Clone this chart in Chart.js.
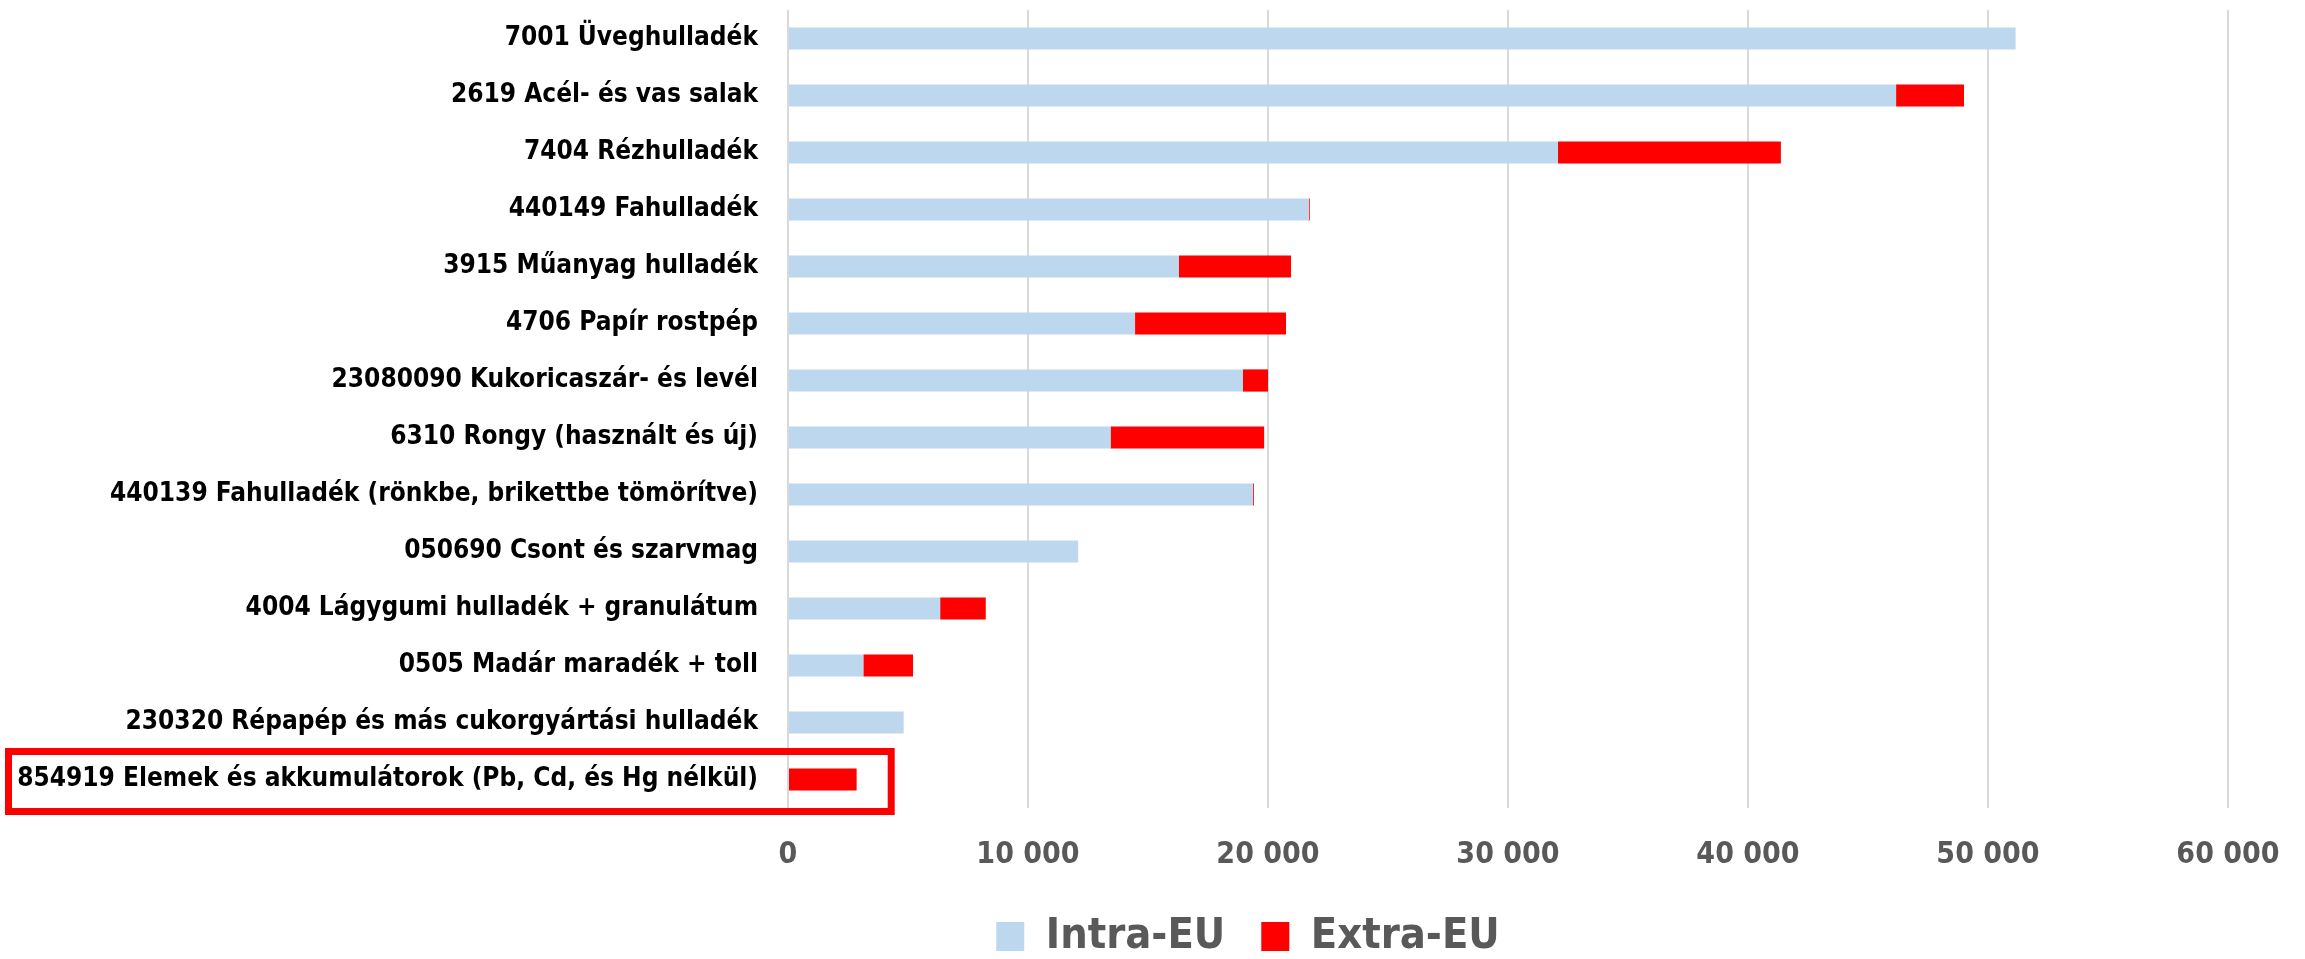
<!DOCTYPE html>
<html>
<head>
<meta charset="utf-8">
<script src="https://cdn.jsdelivr.net/npm/chart.js@4.4.1/dist/chart.umd.min.js"></script>
<style>
  html, body { margin: 0; padding: 0; background: #ffffff; }
  #wrap { width: 2305px; height: 959px; }
</style>
</head>
<body>
<div id="wrap"><canvas id="myChart" width="2305" height="959"></canvas></div>
<script>
let categories = [
    '7001 Üveghulladék',
    '2619 Acél- és vas salak',
    '7404 Rézhulladék',
    '440149 Fahulladék',
    '3915 Műanyag hulladék',
    '4706 Papír rostpép',
    '23080090 Kukoricaszár- és levél',
    '6310 Rongy (használt és új)',
    '440139 Fahulladék (rönkbe, brikettbe tömörítve)',
    '050690 Csont és szarvmag',
    '4004 Lágygumi hulladék + granulátum',
    '0505 Madár maradék + toll',
    '230320 Répapép és más cukorgyártási hulladék',
    '854919 Elemek és akkumulátorok (Pb, Cd, és Hg nélkül)'
]
let intraEU = [51150, 46170, 32080, 21700, 16290, 14460, 18950, 13440, 19370, 12090, 6340, 3140, 4820, 0]
let extraEU = [0, 2830, 9290, 40, 4670, 6290, 1050, 6400, 40, 0, 1900, 2070, 0, 2860]
let seriesNames = ['Intra-EU', 'Extra-EU']
let xTicks = [0, 10000, 20000, 30000, 40000, 50000, 60000]

const font = "'Liberation Sans Narrow', 'DejaVu Sans Condensed', sans-serif";

// thousands with a space, like "10 000"
function fmt(v) {
    return String(v).replace(/\B(?=(\d{3})+(?!\d))/g, ' ');
}

// red frame round the last category
const highlight = {
    id: 'highlight',
    afterDraw(chart) {
        const ctx = chart.ctx;
        const y = chart.scales.y.getPixelForValue(categories.length - 1);
        const x2 = chart.scales.x.getPixelForValue(4300);
        ctx.save();
        ctx.strokeStyle = '#ff0000';
        ctx.lineWidth = 7;
        ctx.strokeRect(8.5, y - 28, x2 - 8.5, 60);
        ctx.restore();
    }
};

// legend sits a bit right of the canvas centre
const legendShift = {
    id: 'legendShift',
    afterLayout(chart) {
        const lg = chart.legend;
        lg.left += 134;
        lg.right += 134;
    }
};

let data = {
    labels: categories,
    datasets: [{
        label: seriesNames[0],
        data: intraEU,
        backgroundColor: '#bdd7ee',
        borderWidth: 0,
        barPercentage: 0.39,
        categoryPercentage: 1
    }, {
        label: seriesNames[1],
        data: extraEU,
        backgroundColor: '#ff0000',
        borderWidth: 0,
        barPercentage: 0.39,
        categoryPercentage: 1
    }]
}

let options = {
    indexAxis: 'y',
    responsive: false,
    animation: false,
    devicePixelRatio: 1,
    layout: { padding: { top: 10, right: 77, left: 0, bottom: -9 } },
    plugins: {
        tooltip: { enabled: false },
        legend: {
            position: 'bottom',
            labels: {
                boxWidth: 28,
                boxHeight: 29,
                padding: 36,
                color: '#595959',
                font: { family: font, size: 43, weight: 'bold' }
            }
        }
    },
    scales: {
        x: {
            stacked: true,
            min: 0,
            max: 60000,
            afterBuildTicks: (axis) => { axis.ticks = xTicks.map(v => ({ value: v })); },
            afterFit: (axis) => {
                axis.height = 71;
                axis.paddingLeft = 0;
                axis.paddingRight = 0;
            },
            grid: { color: '#d9d9d9', lineWidth: 2, drawTicks: false },
            border: { display: false },
            ticks: {
                padding: 29,
                maxRotation: 0,
                color: '#595959',
                font: { family: font, size: 30, weight: 'bold' },
                callback: (v) => fmt(v)
            }
        },
        y: {
            stacked: true,
            afterFit: (axis) => {
                axis.width = 788;
                axis.paddingTop = 0;
                axis.paddingBottom = 0;
            },
            grid: { display: false, drawTicks: false },
            border: { display: false },
            ticks: {
                autoSkip: false,
                padding: 30,
                color: '#000000',
                font: { family: font, size: 26, weight: 'bold' }
            }
        }
    }
}

const ctx = document.getElementById('myChart');
let myChart = new Chart(ctx, { type: 'bar', data: data, options: options, plugins: [highlight, legendShift] });
</script>
</body>
</html>
